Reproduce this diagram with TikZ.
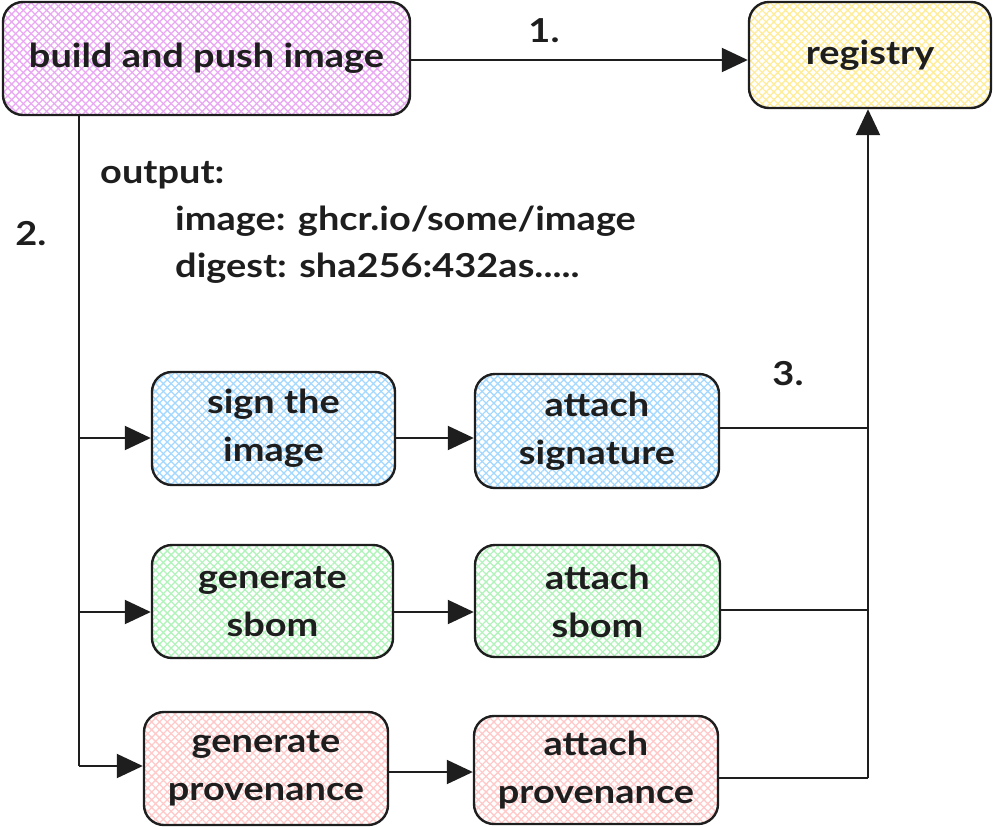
\documentclass[tikz,border=0pt]{standalone}
\usepackage{fontspec}
\setmainfont{Lato}[FakeStretch=1.15]
\usetikzlibrary{arrows.meta,patterns.meta}
\definecolor{ink}{HTML}{1E1E1E}
\definecolor{hviolet}{HTML}{E8A8F2}
\definecolor{hyellow}{HTML}{FFEC99}
\definecolor{hblue}{HTML}{A5D8FF}
\definecolor{hgreen}{HTML}{B2F2BB}
\definecolor{hred}{HTML}{FFC9C9}
\tikzset{
  hatch/.style={
    preaction={pattern={Lines[angle=45,distance=5.5pt,line width=1.3pt]},pattern color=#1},
    preaction={pattern={Lines[angle=-45,distance=5.5pt,line width=1.3pt]},pattern color=#1}},
  box/.style={draw=ink, line width=2.4pt, rounded corners=20pt, align=center,
    text=ink, font=\bfseries\fontsize{33}{48}\selectfont, inner sep=0pt},
  arr/.style={draw=ink, line width=2pt, -{Triangle[length=26pt,width=24pt]}},
  wire/.style={draw=ink, line width=1.8pt},
  lbl/.style={text=ink, font=\bfseries\fontsize{33}{40}\selectfont, inner sep=0pt},
}
\begin{document}
\begin{tikzpicture}[x=1pt,y=-1pt]
\useasboundingbox (0,0) rectangle (993,827);

% steps
\node[box,hatch=hviolet,minimum width=407pt,minimum height=113pt] (build) at (206.5,58.5) {build and push image};
\node[box,hatch=hyellow,minimum width=242pt,minimum height=106pt] (registry) at (870,55) {registry};
\node[box,hatch=hblue,minimum width=243pt,minimum height=113pt] (sign) at (273.5,428.5) {sign the\\image};
\node[box,hatch=hblue,minimum width=244pt,minimum height=114pt] (attsig) at (597,431) {attach\\signature};
\node[box,hatch=hgreen,minimum width=241pt,minimum height=113pt] (gensbom) at (272.5,601.5) {generate\\sbom};
\node[box,hatch=hgreen,minimum width=245pt,minimum height=112pt] (attsbom) at (597.5,601) {attach\\sbom};
\node[box,hatch=hred,minimum width=244pt,minimum height=113pt] (genprov) at (266,768.5) {generate\\provenance};
\node[box,hatch=hred,minimum width=244pt,minimum height=108pt] (attprov) at (596,770) {attach\\provenance};

% labels
\node[lbl] (n1) at (544,31) {1.};
\node[lbl] (n2) at (31,234) {2.};
\node[lbl] (n3) at (788,374) {3.};
\node[lbl,anchor=base west] (out1) at (100,183) {output:};
\node[lbl,anchor=base west] (out2) at (175,230) {image: ghcr.io/some/image};
\node[lbl,anchor=base west] (out3) at (175,277) {digest: sha256:432as.....};

% 1. push
\draw[arr] ([yshift=-1.5pt]build.east) -- ([yshift=-1.5pt]build.east -| registry.west);

% 2. fan out to the three jobs
\coordinate (t0) at ([xshift=77pt]build.south west);
\coordinate (b1) at ([yshift=-9.5pt]sign.west);
\coordinate (b2) at ([yshift=-10.5pt]gensbom.west);
\coordinate (b3) at ([yshift=2.5pt]genprov.west);
\draw[wire] (t0) -- (t0 |- b3);
\draw[arr] (t0 |- b1) -- (b1);
\draw[arr] (t0 |- b2) -- (b2);
\draw[arr] (t0 |- b3) -- (b3);

\draw[arr] ([yshift=-9.5pt]sign.east) -- ([yshift=-9.5pt]sign.east -| attsig.west);
\draw[arr] ([yshift=-10.5pt]gensbom.east) -- ([yshift=-10.5pt]gensbom.east -| attsbom.west);
\draw[arr] ([yshift=-3.5pt]genprov.east) -- ([yshift=-3.5pt]genprov.east -| attprov.west);

% 3. attach to the registry
\coordinate (rt) at ([xshift=-2pt]registry.south);
\coordinate (e1) at ([yshift=3pt]attsig.east);
\coordinate (e2) at ([yshift=-9pt]attsbom.east);
\coordinate (e3) at ([yshift=-8pt]attprov.east);
\draw[wire] (e1) -- (e1 -| rt);
\draw[wire] (e2) -- (e2 -| rt);
\draw[wire] (e3) -- (e3 -| rt);
\draw[arr] (e3 -| rt) -- (rt);
\end{tikzpicture}
\end{document}
